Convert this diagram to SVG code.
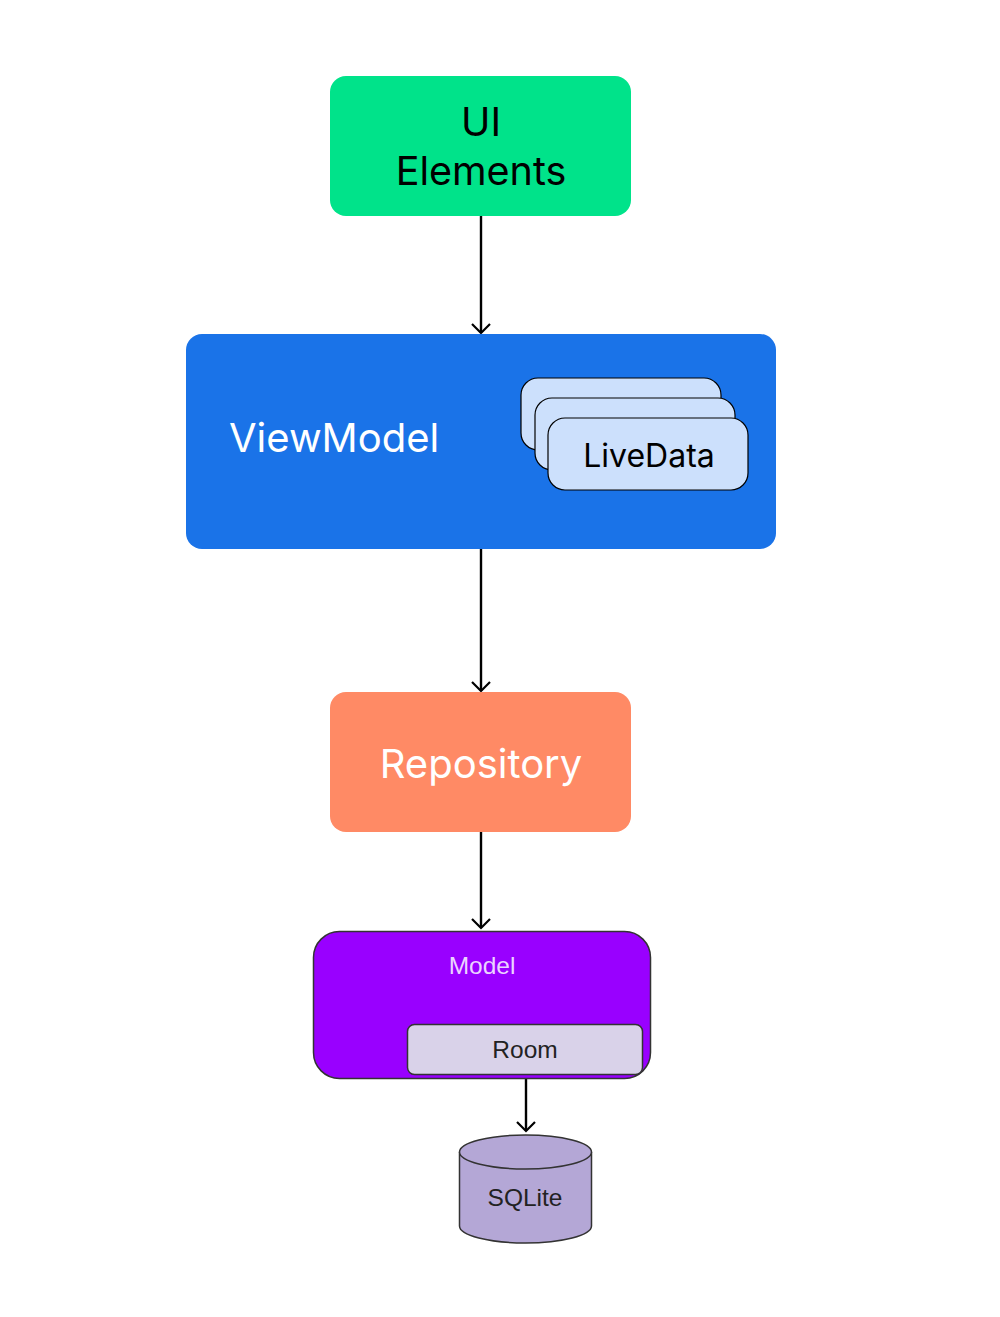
<svg xmlns="http://www.w3.org/2000/svg" width="1000" height="1317" viewBox="0 0 1000 1317">
<defs>
<marker id="arr" markerWidth="20" markerHeight="20" refX="10" refY="10" orient="auto" markerUnits="userSpaceOnUse">
<path d="M1,1 L10,10 L1,19" fill="none" stroke="#000" stroke-width="2.2"/>
</marker>
<style>
.big{font-family:Inter,"Noto Sans",sans-serif;}
.small{font-family:"Liberation Sans",Arial,sans-serif;}
.conn{stroke:#000;stroke-width:2.4;fill:none;}
.ld{fill:#CCE0FC;stroke:#000;stroke-width:1.2;}
</style>
</defs>
<rect width="1000" height="1317" fill="#fff"/>
<g id="connectors">
<line class="conn" x1="481" y1="216" x2="481" y2="333" marker-end="url(#arr)"/>
<line class="conn" x1="481" y1="549" x2="481" y2="691" marker-end="url(#arr)"/>
<line class="conn" x1="481" y1="832" x2="481" y2="928" marker-end="url(#arr)"/>
<line class="conn" x1="526" y1="1075" x2="526" y2="1131" marker-end="url(#arr)"/>
</g>
<g id="ui-elements">
<rect x="330" y="76" width="301" height="140" rx="16" fill="#00E38A"/>
<text class="big" x="481" y="136" font-size="39.5" text-anchor="middle" fill="#000">UI</text>
<text class="big" x="481" y="185" font-size="39.5" text-anchor="middle" fill="#000">Elements</text>
</g>
<g id="viewmodel">
<rect x="186" y="334" width="590" height="215" rx="16" fill="#1A73E8"/>
<text class="big" x="229" y="452" font-size="40" fill="#fff">ViewModel</text>
</g>
<g id="livedata">
<rect class="ld" x="521" y="378" width="200" height="72" rx="17"/>
<rect class="ld" x="535" y="398" width="200" height="72" rx="17"/>
<rect class="ld" x="548" y="418" width="200" height="72" rx="17"/>
<text class="big" x="649" y="467" font-size="32" text-anchor="middle" fill="#000">LiveData</text>
</g>
<g id="repository">
<rect x="330" y="692" width="301" height="140" rx="16" fill="#FF8A65"/>
<text class="big" x="481" y="778" font-size="40" text-anchor="middle" fill="#fff">Repository</text>
</g>
<g id="model">
<rect x="313.5" y="931.5" width="337" height="147" rx="26" fill="#9900FF" stroke="#333" stroke-width="1.5"/>
<text class="small" x="482" y="974" font-size="24.5" text-anchor="middle" fill="#EBD4FF">Model</text>
</g>
<g id="room">
<rect x="407.5" y="1024.5" width="235" height="50" rx="7" fill="#D9D2E9" stroke="#333" stroke-width="1.5"/>
<text class="small" x="525" y="1058" font-size="24.5" text-anchor="middle" fill="#222">Room</text>
</g>
<g id="sqlite">
<path d="M459.5,1152 L459.5,1226 A66,17 0 0 0 591.5,1226 L591.5,1152" fill="#B4A7D6" stroke="#333" stroke-width="1.5"/>
<ellipse cx="525.5" cy="1152" rx="66" ry="17" fill="#B4A7D6" stroke="#333" stroke-width="1.5"/>
<text class="small" x="525" y="1206" font-size="24.5" text-anchor="middle" fill="#222">SQLite</text>
</g>
</svg>
